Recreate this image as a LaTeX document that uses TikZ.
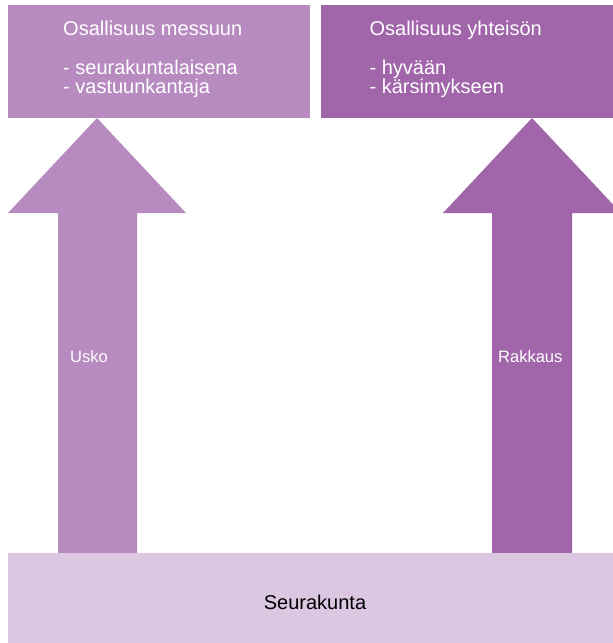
\documentclass[tikz,border=0pt]{standalone}
\usepackage{fontspec}
\setmainfont{Liberation Sans}
\usetikzlibrary{positioning}
\definecolor{uskovari}{RGB}{183,139,192}
\definecolor{rakkausvari}{RGB}{161,101,170}
\definecolor{pohjavari}{RGB}{219,199,225}
\tikzset{
      laatikko/.style={
		fill=#1,
		inner sep=0pt,
		anchor=north west,
	  },
  		otsikko/.style={
    	text=white, font=\fontsize{20}{19}\selectfont,
    	align=left, anchor=base west, inner sep=0pt,
      },
  		nuoliteksti/.style={
    	text=white, font=\fontsize{16.5}{18}\selectfont,
    	anchor=base west, inner sep=0pt,
      }
  	}
\begin{document}
\begin{tikzpicture}[x=1pt,y=-1pt]
    \clip (0,0) rectangle (613,643);
    % nuolet
    \fill[uskovari] (97,118) -- (186,213) -- (137,213) -- (137,553) -- (58,553) -- (58,213) -- (8,213) -- cycle;
    \fill[rakkausvari] (532,118) -- (621,213) -- (572,213) -- (572,553) -- (492,553) -- (492,213) -- (443,213) -- cycle;
    % laatikot
    \node [laatikko=uskovari, minimum width=302pt, minimum height=113pt] (messu) at (8,5) {};
    \node [laatikko=rakkausvari, minimum width=293pt, minimum height=113pt, right=10pt of messu] (yhteiso) {};
    \node [laatikko=pohjavari, minimum width=605pt, minimum height=95pt] (seurakunta) at (8,553) {};
    % tekstit (base = viimeinen rivi)
    \node [otsikko] (messuteksti) at ([xshift=55pt,yshift=-88pt]messu.north west) {Osallisuus messuun\\[20pt]- seurakuntalaisena\\- vastuunkantaja};
    \node [otsikko] (yhteisoteksti) at ([xshift=49pt,yshift=-88pt]yhteiso.north west) {Osallisuus yhteisön\\[20pt]- hyvään\\- kärsimykseen};
    \node [nuoliteksti] (usko) at (70,362) {Usko};
    \node [nuoliteksti] (rakkaus) at (498,362) {Rakkaus};
    \node [font=\fontsize{20}{18}\selectfont, inner sep=0pt] (seurakuntateksti) at (315,602) {Seurakunta};
  \end{tikzpicture}
\end{document}
